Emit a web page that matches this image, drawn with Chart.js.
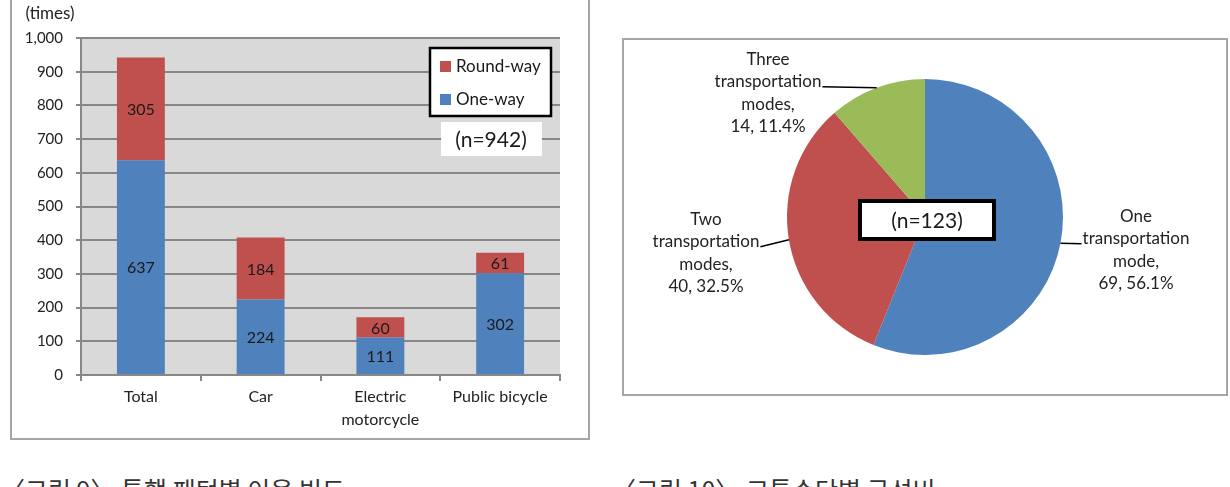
<!DOCTYPE html>
<html>
<head>
<meta charset="utf-8">
<script src="https://cdn.jsdelivr.net/npm/chart.js@4.4.1/dist/chart.umd.min.js"></script>
<style>
  body { margin: 0; width: 1230px; height: 487px; background: #fff; overflow: hidden; position: relative; font-family: Lato, sans-serif; }
  .frame { position: absolute; border: 2px solid #a6a6a6; box-sizing: border-box; }
  #frameBar { left: 10px; top: -10px; width: 580px; height: 450px; }
  #framePie { left: 622px; top: 38px; width: 606px; height: 358px; }
  canvas { position: absolute; }
  #barChart { left: 0; top: 0; }
  #pieChart { left: 622px; top: 38px; }
  .caption { position: absolute; top: 477px; font-family: "Noto Sans CJK KR", sans-serif; font-size: 25px; line-height: 1; color: #333; white-space: nowrap; }
</style>
</head>
<body>
<div class="frame" id="frameBar"></div>
<div class="frame" id="framePie"></div>
<canvas id="barChart" width="600" height="440"></canvas>
<canvas id="pieChart" width="606" height="358"></canvas>
<div class="caption" style="left:0px">〈그림 9〉 통행 패턴별 이용 빈도</div>
<div class="caption" style="left:611px">〈그림 10〉 교통수단별 구성비</div>

<script>
  // bar chart data
  const categorias = ['Total', 'Car', ['Electric', 'motorcycle'], 'Public bicycle'];
  const oneWay = [637, 224, 111, 302];
  const roundWay = [305, 184, 60, 61];
  const yMin = 0, yMax = 1000, yStep = 100;
  const totalN = 942;

  // pie chart data
  const modos = [['One', 'transportation', 'mode,'], ['Two', 'transportation', 'modes,'], ['Three', 'transportation', 'modes,']];
  const contagem = [69, 40, 14];
  const totalModos = 123;

  const azul = '#4f81bd', vermelho = '#c0504d', verde = '#9bbb59';
  const grade = '#878787';

  Chart.defaults.font.family = 'Lato, sans-serif';
  Chart.defaults.color = '#222';

  const fundoPlot = {
    id: 'fundoPlot',
    beforeDraw(chart) {
      const a = chart.chartArea, ctx = chart.ctx;
      ctx.save();
      ctx.fillStyle = '#d9d9d9';
      ctx.fillRect(a.left, a.top, a.right - a.left, a.bottom - a.top);
      ctx.restore();
    }
  };

  const rotulosBarra = {
    id: 'rotulosBarra',
    afterDatasetsDraw(chart) {
      const ctx = chart.ctx;
      ctx.save();
      ctx.font = '16px Lato, sans-serif';
      ctx.fillStyle = '#1a1a1a';
      ctx.textAlign = 'center';
      ctx.textBaseline = 'middle';
      chart.data.datasets.forEach((ds, i) => {
        chart.getDatasetMeta(i).data.forEach((bar, j) => {
          ctx.fillText(ds.data[j], bar.x, (bar.y + bar.base) / 2 + 1);
        });
      });
      ctx.restore();
    }
  };

  const legendaBarra = {
    id: 'legendaBarra',
    afterDraw(chart) {
      const ctx = chart.ctx, a = chart.chartArea;
      ctx.save();
      // "(times)"
      ctx.font = '17px Lato, sans-serif';
      ctx.fillStyle = '#222';
      ctx.textAlign = 'center';
      ctx.textBaseline = 'middle';
      ctx.fillText('(times)', 50, 14);

      // legend box
      const bx = a.right - 130, by = a.top + 10, bw = 121, bh = 68;
      ctx.fillStyle = '#fff';
      ctx.fillRect(bx, by, bw, bh);
      ctx.lineWidth = 2.5;
      ctx.strokeStyle = '#000';
      ctx.strokeRect(bx, by, bw, bh);
      const itens = chart.data.datasets.slice().reverse();
      ctx.font = '17px Lato, sans-serif';
      ctx.textAlign = 'left';
      itens.forEach((ds, k) => {
        const yy = by + 18 + k * 33;
        ctx.fillStyle = ds.backgroundColor;
        ctx.fillRect(bx + 10, yy - 5, 11, 11);
        ctx.fillStyle = '#1a1a1a';
        ctx.fillText(ds.label, bx + 26, yy + 1);
      });

      // (n=942)
      ctx.fillStyle = '#fff';
      ctx.fillRect(bx + 11, by + 74, 101, 34);
      ctx.fillStyle = '#1a1a1a';
      ctx.font = '21px Lato, sans-serif';
      ctx.textAlign = 'center';
      ctx.fillText('(n=' + totalN + ')', bx + 61, by + 92);
      ctx.restore();
    }
  };

  new Chart(document.getElementById('barChart').getContext('2d'), {
    type: 'bar',
    data: {
      labels: categorias,
      datasets: [
        { label: 'One-way', data: oneWay, backgroundColor: azul, categoryPercentage: 0.8, barPercentage: 0.5 },
        { label: 'Round-way', data: roundWay, backgroundColor: vermelho, categoryPercentage: 0.8, barPercentage: 0.5 }
      ]
    },
    options: {
      responsive: false,
      animation: false,
      layout: { padding: { left: 0, top: 38, right: 40, bottom: 0 } },
      plugins: { legend: { display: false }, tooltip: { enabled: false } },
      scales: {
        x: {
          stacked: true,
          afterFit: s => { s.height = 65; },
          grid: { drawOnChartArea: false, color: grade, lineWidth: 2, tickLength: 6 },
          border: { color: grade, width: 2 },
          ticks: { font: { size: 16, lineHeight: 1.4 }, color: '#222', padding: 5, maxRotation: 0, autoSkip: false }
        },
        y: {
          stacked: true,
          min: yMin, max: yMax,
          afterFit: s => { s.width = 81; },
          grid: { color: grade, lineWidth: 2, tickLength: 5 },
          border: { color: grade, width: 2 },
          ticks: { stepSize: yStep, font: { size: 15 }, color: '#222', padding: 13 }
        }
      }
    },
    plugins: [fundoPlot, rotulosBarra, legendaBarra]
  });

  const rotulosPizza = {
    id: 'rotulosPizza',
    afterDraw(chart) {
      const ctx = chart.ctx;
      const arcos = chart.getDatasetMeta(0).data;
      const desloc = [{ dx: 211, dy: 33, lado: 1 }, { dx: -219, dy: 36, lado: -1 }, { dx: -157, dy: -124, lado: -1 }];
      const lh = 22.5;
      ctx.save();
      ctx.font = '17px Lato, sans-serif';
      ctx.textAlign = 'center';
      ctx.textBaseline = 'middle';
      arcos.forEach((arc, i) => {
        const v = contagem[i];
        const pct = (v / totalModos * 100).toFixed(1);
        const linhas = modos[i].concat([v + ', ' + pct + '%']);
        const cx = arc.x + desloc[i].dx, cy = arc.y + desloc[i].dy;
        ctx.fillStyle = '#222';
        linhas.forEach((t, k) => ctx.fillText(t, cx, cy + (k - 1.5) * lh));
        // leader line
        const meio = (arc.startAngle + arc.endAngle) / 2;
        const ex = arc.x + arc.outerRadius * Math.cos(meio);
        const ey = arc.y + arc.outerRadius * Math.sin(meio);
        const w = ctx.measureText(linhas[1]).width;
        const lx = cx - desloc[i].lado * (w / 2 + 1);
        const ly = cy - 0.5 * lh + 5;
        ctx.strokeStyle = '#000';
        ctx.lineWidth = 1.5;
        ctx.beginPath();
        ctx.moveTo(ex, ey);
        ctx.lineTo(lx, ly);
        ctx.stroke();
      });
      // (n=123) box
      const a0 = arcos[0];
      const bw = 134, bh = 38, bx = a0.x + 2 - bw / 2, by = a0.y + 3 - bh / 2;
      ctx.fillStyle = '#fff';
      ctx.fillRect(bx, by, bw, bh);
      ctx.lineWidth = 4;
      ctx.strokeStyle = '#000';
      ctx.strokeRect(bx, by, bw, bh);
      ctx.fillStyle = '#1a1a1a';
      ctx.font = '21px Lato, sans-serif';
      ctx.fillText('(n=' + totalModos + ')', a0.x + 2, a0.y + 4);
      ctx.restore();
    }
  };

  new Chart(document.getElementById('pieChart').getContext('2d'), {
    type: 'pie',
    data: {
      labels: modos.map(m => m.join(' ')),
      datasets: [{ data: contagem, backgroundColor: [azul, vermelho, verde], borderWidth: 0 }]
    },
    options: {
      responsive: false,
      animation: false,
      layout: { padding: { left: 165, right: 165, top: 41, bottom: 41 } },
      plugins: { legend: { display: false }, tooltip: { enabled: false } }
    },
    plugins: [rotulosPizza]
  });
</script>
</body>
</html>
